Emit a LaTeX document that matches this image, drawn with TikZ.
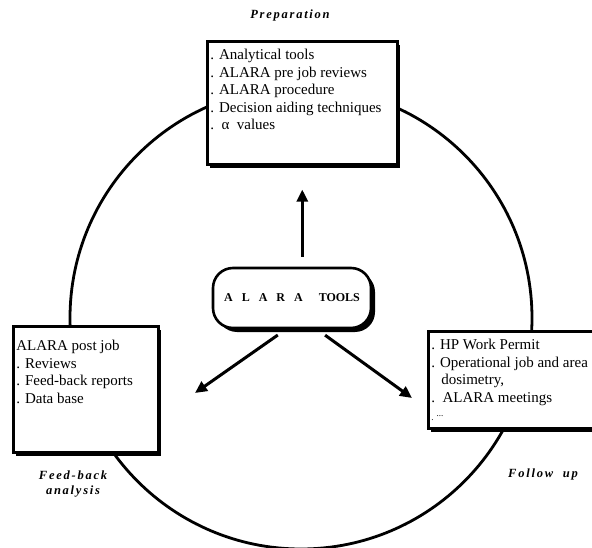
\documentclass[tikz,border=0pt]{standalone}
\usepackage{fontspec}
\setmainfont{Liberation Serif}
\newfontfamily\stagefont[LetterSpace=14]{Liberation Serif}
\usetikzlibrary{arrows.meta,shadows}

\tikzset{
  card/.style={draw, line width=2.6pt, fill=white, anchor=north west,
    inner xsep=3pt, inner ysep=8pt,
    drop shadow={shadow xshift=3pt, shadow yshift=-4pt, opacity=1, fill=black}},
  hubbox/.style={draw, line width=2.6pt, fill=white, rounded corners=20pt,
    minimum width=158pt, minimum height=60pt,
    drop shadow={shadow xshift=4pt, shadow yshift=-4pt, opacity=1, fill=black}},
  flow/.style={line width=3pt, -{Triangle[length=12pt,width=11pt]}},
  stage/.style={font=\stagefont\bfseries\itshape\fontsize{12.5}{15}\selectfont, align=center},
}

\begin{document}
\begin{tikzpicture}[x=1pt,y=-1pt]
\useasboundingbox (0,0) rectangle (592,548);
\fontsize{15}{17.5}\selectfont

% cycle round the boxes
\coordinate (hub) at (301,318);
\draw[line width=2.8pt] (hub) circle (231pt);

% the boxes
\node[card] (prep) at (206,40) {\parbox[t][107pt][t]{184pt}{%
. Analytical tools\\
. ALARA pre job reviews\\
. ALARA procedure\\
. Decision aiding techniques\\
.\ \ α\ \ values}};
\node[card, inner ysep=14pt] (post) at (12,325) {\parbox[t][98pt][t]{139pt}{%
ALARA post job\\
. Reviews\\
. Feed-back reports\\
. Data base}};
\node[card] (permit) at (427,330) {\parbox[t][81pt][t]{190pt}{%
. HP Work Permit\\
. Operational job and area\\
\hspace*{10pt}dosimetry,\\
.\ \ ALARA meetings\\[1pt]
{\small . \raisebox{4pt}{...}}}};
\node[hubbox] (tools) at (292,298)
  {\bfseries\fontsize{12}{14}\selectfont A\hspace{9pt}L\hspace{9pt}A\hspace{9pt}R\hspace{9pt}A\hspace{16pt}TOOLS};

% arrows out of the tools
\coordinate (fbtip) at (195,393);
\coordinate (futip) at (412,398);
\draw[flow, shorten <=10pt, shorten >=24pt] (prep.south |- tools.north) -- (prep.south);
\draw[flow, shorten <=10pt] ([xshift=-6pt]tools.south) -- (fbtip);
\draw[flow, shorten <=10pt] ([xshift=25pt]tools.south) -- (futip);

% stage names
\node[stage] (prepname) at (290,15) {Preparation};
\node[stage] (fbname) at (73,484) {Feed-back\\analysis};
\node[stage] (funame) at (543,474) {Follow\ \ up};
\end{tikzpicture}
\end{document}
